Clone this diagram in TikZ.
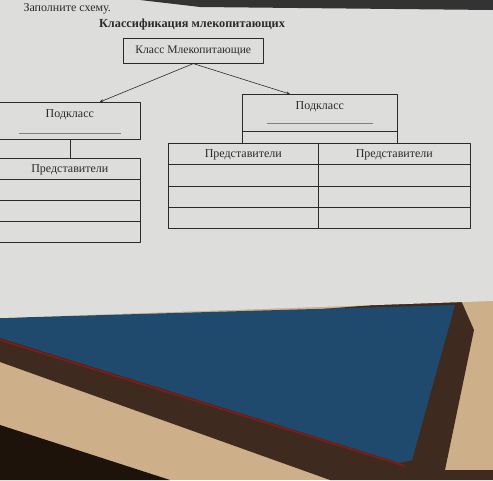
\documentclass[tikz,border=0pt]{standalone}
\usepackage{fontspec}
\setmainfont{Liberation Serif}
\usetikzlibrary{positioning,calc}
\definecolor{paper}{HTML}{DDDDDB}
\definecolor{ink}{HTML}{2A2A2A}
\definecolor{desk}{HTML}{CDB08A}
\definecolor{deskshadow}{HTML}{3E2A1E}
\definecolor{cover}{HTML}{1F4A6E}
\begin{document}
\begin{tikzpicture}[x=1pt, y=-1pt, line join=round, >=stealth,
    font=\fontsize{12}{14}\selectfont, text=ink,
    box/.style={draw=ink, line width=0.6pt, inner sep=0pt},
    row/.style={draw=ink, line width=0.6pt},
    hint/.style={draw=gray, line width=0.4pt}]
  \useasboundingbox (0,0) rectangle (493,480);
  \fill[desk] (0,0) rectangle (493,480);
  \fill[deskshadow] (0,335) -- (460,298) -- (474,330) -- (445,470) -- (493,470) -- (493,480) -- (330,480) -- (0,362) -- cycle;
  \fill[black!85!brown] (0,425) -- (170,480) -- (0,480) -- cycle;
  \fill[cover] (0,318) -- (455,305) -- (412,460) -- (400,463) -- (0,338) -- cycle;
  \draw[red!40!deskshadow, line width=1.5pt] (0,340) -- (405,466);
  \fill[paper] (0,0) -- (493,0) -- (493,301) -- (0,318) -- cycle;
  \fill[black!80] (140,0) -- (493,0) -- (493,10) -- (200,7) -- cycle;

  \node[anchor=west] (task) at (20,9) {Заполните схему.};
  \node[font=\fontsize{12.3}{14}\selectfont\bfseries] (title) at (192,25) {Классификация млекопитающих};

  \node[box, minimum width=140, minimum height=25, anchor=north west, font=\fontsize{11.6}{14}\selectfont] (klass) at (123,38) {Класс Млекопитающие};

  \node[box, minimum width=141, minimum height=37, anchor=north west] (podL) at (-1,102) {};
  \node[below=4pt of podL.north] (podLtxt) {Подкласс};
  \draw[hint] ([xshift=20,yshift=6]podL.south west) -- ([xshift=-20,yshift=6]podL.south east);

  \node[box, minimum width=155, minimum height=49, anchor=north west] (podR) at (242,94) {};
  \node[below=4pt of podR.north] (podRtxt) {Подкласс};
  \draw[hint] ([xshift=25,yshift=20]podR.south west) -- ([xshift=-25,yshift=20]podR.south east);
  \draw[row] ([yshift=12]podR.south west) -- ([yshift=12]podR.south east);

  \draw[->, ink, line width=0.6pt] (klass.south) -- ([xshift=30]podL.north);
  \draw[->, ink, line width=0.6pt] (klass.south) -- ([xshift=-30]podR.north);

  \node[box, minimum width=141, minimum height=84, anchor=north west] (tabL) at (-1,158) {};
  \node[box, minimum width=150, minimum height=85, anchor=north west] (tabA) at (168,143) {};
  \node[box, minimum width=152, minimum height=85, anchor=north west] (tabB) at (318,143) {};
  \foreach \t in {tabL,tabA,tabB} {
    \node[below=3pt of \t.north] {Представители};
    \foreach \k in {1,2,3}
      \draw[row] ($(\t.north west)!\k/4!(\t.south west)$) -- ($(\t.north east)!\k/4!(\t.south east)$);
  }

  \draw[row] (podL.south) -- (tabL.north);
\end{tikzpicture}
\end{document}
